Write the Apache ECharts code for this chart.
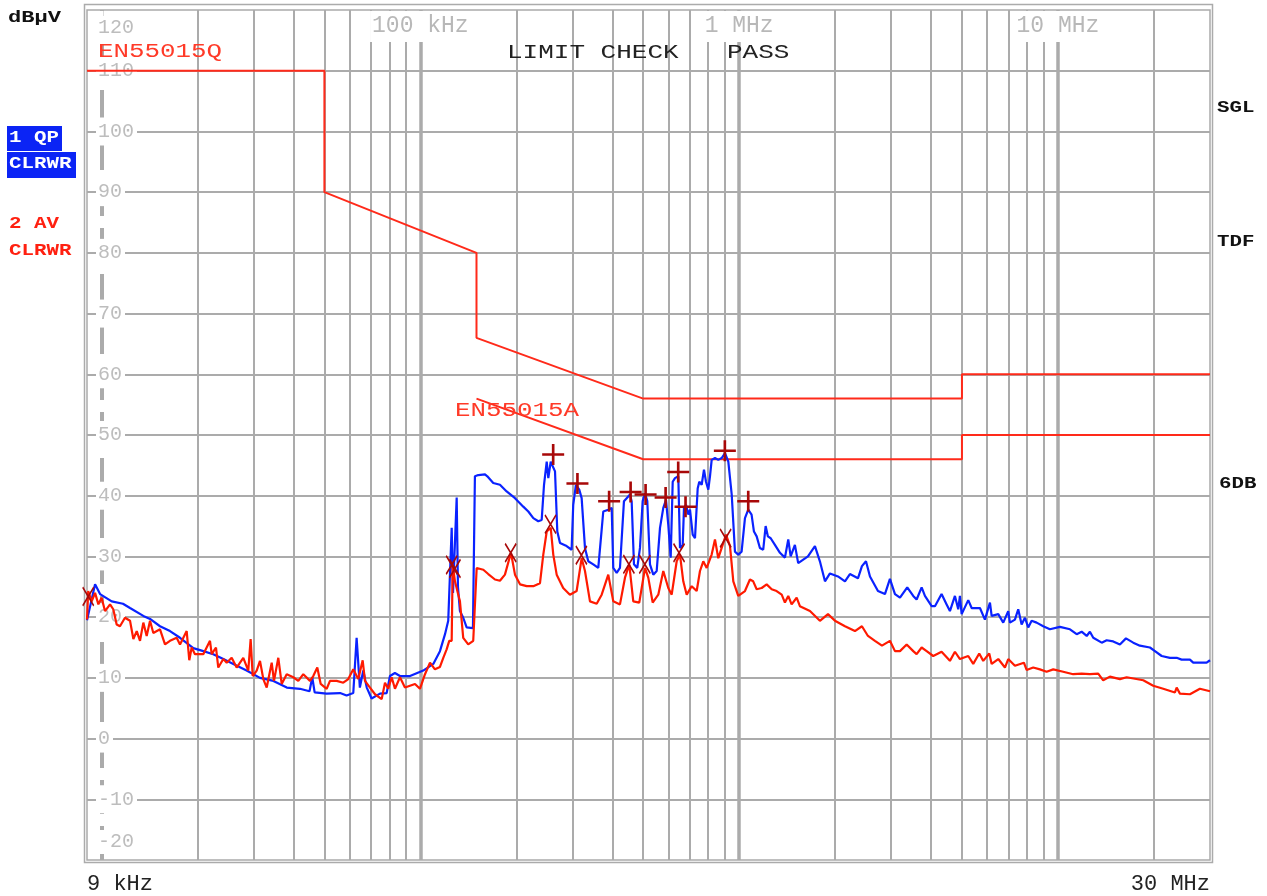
<!DOCTYPE html>
<html><head><meta charset="utf-8">
<script src="https://cdn.jsdelivr.net/npm/echarts@6/dist/echarts.min.js"></script>
<style>html,body{margin:0;padding:0;background:#fff}#c{width:1267px;height:896px}</style>
</head><body><div id="c"></div>
<script>
// Frequencies in kHz, levels in dBµV
const qpTrace = [[9.0,19.5],[9.54,25.4],[9.89,23.8],[10.76,22.6],[11.67,22.2],[12.28,21.5],[13.52,20.2],[14.19,19.7],[15.25,18.5],[16.39,17.7],[17.62,16.6],[19.4,14.9],[20.85,14.4],[22.4,13.9],[24.1,13.1],[25.9,12.3],[28.5,11.2],[31.4,10.0],[34.6,9.5],[38.1,8.4],[41.9,8.2],[44.9,7.8],[45.8,10.1],[46.6,7.6],[50.8,7.4],[56.0,7.5],[58.7,7.1],[61.6,7.5],[63.1,16.6],[64.6,8.4],[66.2,11.2],[67.9,8.4],[70.3,6.6],[74.7,7.4],[78.4,7.5],[80.3,10.3],[83.2,10.8],[86.3,10.3],[92.8,10.3],[102.1,11.2],[109.8,12.3],[115.2,14.4],[119.5,17.2],[122.3,19.4],[125.4,34.7],[126.6,24],[130,39.7],[131.2,25],[133.1,21],[136.3,19.9],[139.7,18.3],[146.2,18.2],[148.3,43.2],[152.0,43.4],[159.5,43.5],[162.2,43.2],[169.3,42.1],[177.7,41.8],[186.5,40.7],[198.1,39.6],[210.3,38.2],[218.1,37.4],[226.1,36.3],[234.4,35.8],[240.2,36],[244.3,41.8],[249.1,45.6],[252.0,42.9],[256.4,45.6],[260.1,45.3],[264.5,44],[268.9,34.1],[274.2,32.2],[287.6,31.7],[298.2,31.1],[301.7,38.5],[307.6,41.8],[315.1,41],[320.6,39.6],[328.4,31.4],[336.3,29.2],[348.7,28.7],[361.5,28.1],[370.5,34.4],[374.8,37.4],[388.6,37.7],[398.3,38],[402.9,28.1],[412.9,27.3],[422.8,28.1],[435.2,39.1],[443.8,39.6],[454.5,40.2],[460.1,39.1],[467.8,28.7],[479.1,28.1],[488.6,31.4],[498.2,39.1],[506.6,40.4],[515.1,39.1],[525.2,28.7],[537.9,27],[551.3,27.6],[564.6,34.7],[578.2,38],[589.6,39.3],[599.5,35.2],[610.0,29.8],[618.9,42.3],[629.2,42.9],[644.4,43.2],[652.3,31.4],[665.2,31.9],[671.4,38],[681.2,38.5],[692.7,36.9],[701.3,37.7],[715.1,33.6],[727.0,33],[741.3,41.2],[749.9,42.3],[763.0,41.8],[775.8,44.3],[787.1,42.3],[800.3,41],[810.1,43.2],[820.1,45.9],[839.9,46.2],[860.1,45.9],[881.5,46.2],[903.0,47],[924.8,45.6],[947.8,40.2],[970.3,30.8],[993.6,30.3],[1018,30.8],[1043,36.3],[1068,37.7],[1094,36.9],[1113,34.1],[1135,33.3],[1162,31.4],[1190,31.1],[1211,35],[1231,33.3],[1256,33],[1295,31.9],[1343,30.6],[1392,29.8],[1426,32.8],[1451,30],[1496,31.9],[1532,28.9],[1551,29.2],[1644,30],[1729,31.7],[1792,29.2],[1859,25.9],[1927,27.2],[2042,26.7],[2148,25.9],[2226,27.1],[2359,26.4],[2428,28.4],[2500,29.2],[2573,26.7],[2726,24.3],[2867,23.8],[2972,26.3],[3082,23.8],[3196,23.2],[3368,24.9],[3517,23.5],[3604,22.9],[3737,24.9],[3827,23.5],[4017,21.8],[4114,21.8],[4316,23.8],[4476,22.1],[4584,21],[4753,23.5],[4868,21.3],[4928,23.5],[4989,20.5],[5233,22.8],[5363,21.5],[5694,21.5],[5903,19.6],[6121,22.4],[6197,20.2],[6500,20.5],[6738,19.1],[6985,21],[7071,19.1],[7331,19.6],[7508,21.3],[7694,18.8],[7880,19.9],[8070,18.3],[8271,19.4],[8575,19.1],[8994,18.5],[9439,18],[10150,18.4],[10910,18],[11450,17.2],[11870,17.6],[12310,16.9],[12600,17.6],[12910,16.6],[13720,15.8],[14220,16.2],[14910,16],[15650,15.5],[16350,16.5],[17230,15.8],[18080,15.3],[19440,15],[20160,14.4],[21160,13.6],[22460,13.3],[23580,13.3],[24440,13],[25950,13],[26580,12.5],[29280,12.5],[30000,12.9]];

const avTrace = [[9.0,19.6],[9.08,24.3],[9.31,22.6],[9.54,24],[9.77,22.1],[10.0,23.2],[10.25,21],[10.63,22.1],[10.88,21.3],[11.15,18.8],[11.42,18.5],[11.84,19.9],[12.28,19.4],[12.58,16.4],[12.89,17.7],[13.2,16.1],[13.52,19.1],[13.85,16.9],[14.19,19.4],[14.53,17.4],[15.25,18],[15.81,15.5],[16.39,16.1],[17.2,16.6],[17.62,15.5],[18.49,17.7],[18.84,12.9],[19.17,15],[19.63,13.9],[20.85,13.9],[21.88,16.1],[22.15,13.9],[22.85,15],[23.23,11.7],[24.09,13.1],[24.69,12.5],[25.59,13.3],[26.53,11.7],[27.83,13.3],[28.85,11.2],[29.35,16.4],[29.79,10.3],[30.66,11.2],[31.4,12.8],[32.16,9.8],[32.96,8.4],[34.17,12.5],[34.74,9.5],[35.84,13.3],[36.73,9],[38.08,10.6],[39.94,10.1],[41.41,9.5],[42.93,10.6],[45.06,9.5],[46.14,10.3],[47.5,11.7],[48.68,9],[50.83,8.2],[52.06,9.5],[54.64,9.5],[57.3,9.2],[59.41,9.8],[61.6,11.4],[63.86,9.8],[65.92,12.9],[67.03,9.5],[69.5,8.4],[72.06,7.3],[75.62,6.5],[77.45,9.2],[79.31,8.2],[81.28,10.1],[83.24,8.2],[86.3,10.1],[89.47,8.4],[92.76,8.7],[96.2,9],[99.7,8.2],[103.4,10.6],[107.2,12.5],[111.1,11.4],[115.2,11.8],[118.0,13.3],[120.9,14.7],[123.2,16.1],[125.4,16.1],[126.3,28.7],[128.4,25.9],[131.5,23.7],[133.1,22.6],[136.3,16.6],[141.3,15.5],[146.5,16.1],[150.2,28.1],[157.6,27.8],[163.3,27.1],[171.4,26.2],[177.7,26],[184.2,27],[192.4,30.6],[198.1,27],[205.4,25.4],[215.6,25.1],[226.1,25.1],[237.3,25.6],[243.0,30.3],[249.1,34.1],[256.4,34.7],[261.2,30.3],[267.7,27],[280.6,24.8],[294.5,23.7],[309.2,24.3],[320.6,29.7],[328.4,27.6],[340.5,22.6],[357.4,22.2],[370.5,23.7],[388.6,27],[402.9,22.6],[422.8,22.1],[438.4,26.5],[452.2,28.7],[465.5,22.6],[486.1,22.4],[506.6,28.1],[518.8,26.5],[535.6,22.4],[557.7,23.7],[578.2,27.6],[599.5,24.8],[614.4,23.7],[637.0,29.2],[652.3,30.3],[668.0,25.9],[684.7,23.7],[709.9,25.1],[736.0,24.3],[753.7,27.6],[771.9,29.2],[791.1,28.1],[820.1,30.3],[839.9,32.8],[860.1,29.7],[881.5,31.4],[909.6,33.6],[936.2,31.7],[958.8,25.9],[993.6,23.5],[1043,24.3],[1081,26.2],[1107,25.9],[1135,24.6],[1177,24.8],[1220,25.4],[1265,24.6],[1311,24.3],[1360,23.7],[1392,22.4],[1426,23.5],[1461,22.1],[1515,23.2],[1551,21.8],[1668,21],[1792,19.4],[1900,20.5],[1998,19.4],[2148,18.5],[2308,17.7],[2428,18.5],[2536,16.9],[2667,16.1],[2806,15.3],[2972,16.1],[3082,14.4],[3196,14.4],[3354,15.5],[3517,14.4],[3604,13.9],[3737,15],[3875,14.4],[4063,13.6],[4316,14.3],[4584,12.8],[4753,14.3],[4928,13.1],[5233,13.6],[5425,12.3],[5665,14],[5831,12.8],[6090,14],[6197,12.3],[6500,13.1],[6821,11.7],[6985,13.1],[7331,12],[7823,12.5],[7977,11.3],[8367,11.7],[8782,11.4],[9217,11],[9667,11.4],[10390,11],[11170,10.6],[11870,10.7],[12600,10.6],[13380,10.7],[13870,9.6],[14560,10.2],[15650,9.8],[16430,10.1],[18520,9.6],[19910,8.7],[21400,8.2],[23290,7.6],[23580,8.4],[24140,7.4],[25950,7.3],[27890,8.2],[30000,7.8]];

const qpLimit = [[9,110],[50,110],[50,90],[150,80],[150,66],[500,56],[5000,56],[5000,60],[30000,60]];
const avLimit = [[150,56],[500,46],[5000,46],[5000,50],[30000,50]];
const qpPeaks = [[261,46.8],[311,42.0],[391,39.1],[456.6,40.6],[508.8,40.2],[588,39.7],[644,43.9],[679,38.2],[902,47.4],[1068,39.1]];
const avPeaks = [[9.08,23.4],[125.4,28.6],[128.4,28.0],[192,30.6],[256,35.3],[320,30.2],[451,28.7],[506,28.7],[648,30.6],[907,33.0]];

const yGrid = [-10,0,10,20,30,40,50,60,70,80,90,100,110];
const minorFreqs = [20,30,40,50,60,70,80,90,200,300,400,500,600,700,800,900,2000,3000,4000,5000,6000,7000,8000,9000,20000];
const decadeFreqs = [100,1000,10000];
const markerFreqs = [10];
const topLabels = {100:'100 kHz',1000:'1 MHz',10000:'10 MHz'};
const edgeLabels = ['9 kHz','30 MHz'];

const GRID = '#ababab';
const MONO = '"Liberation Mono","DejaVu Sans Mono",monospace';

const chart = echarts.init(document.getElementById('c'), null, {renderer:'canvas'});

const gridLines = [];
minorFreqs.forEach(f => gridLines.push({xAxis:f, lineStyle:{color:GRID,width:2,type:'solid'}}));
decadeFreqs.forEach(f => gridLines.push({xAxis:f, lineStyle:{color:GRID,width:3.5,type:'solid'}}));
markerFreqs.forEach(f => gridLines.push({xAxis:f, lineStyle:{color:GRID,width:4,type:[34,12]}}));
yGrid.forEach(v => gridLines.push({yAxis:v, lineStyle:{color:GRID,width:2,type:'solid'}}));

const plusPath = 'path://M8.8,0h2.4v8.8h8.8v2.4h-8.8v8.8h-2.4v-8.8h-8.8v-2.4h8.8z';
const xPath = 'path://M0,1.6L1.6,0L10,8.4L18.4,0L20,1.6L11.6,10L20,18.4L18.4,20L10,11.6L1.6,20L0,18.4L8.4,10Z';

function txt(x, y, text, color, font, sx) {
  return {type:'text', x:x, y:y, scaleX:sx||1, z:100,
    style:{text:text, x:0, y:0, fill:color, font:font, textAlign:'left', align:'left', textVerticalAlign:'middle', verticalAlign:'middle'}};
}

const boldF = 'bold 16px ' + MONO;
const plainF = '20px ' + MONO;

const option = {
  backgroundColor:'#fff',
  animation:false,
  grid:{left:87, right:57, top:7, bottom:36, show:true, borderColor:GRID, borderWidth:1.5, backgroundColor:'transparent', z:0},
  xAxis:[
    {type:'log', logBase:10, min:9, max:30000, position:'bottom', z:1,
     axisLine:{show:false}, axisTick:{show:false}, splitLine:{show:false},
     axisLabel:{show:true, margin:13, color:'#222', fontFamily:MONO, fontSize:22,
       alignMinLabel:'left', alignMaxLabel:'right', showMinLabel:true, showMaxLabel:true,
       formatter:function(v){ if (v < 9.5) return edgeLabels[0]; if (v > 29000) return edgeLabels[1]; return ''; }}},
    {type:'log', logBase:10, min:9, max:30000, position:'top', z:1,
     axisLine:{show:false}, axisTick:{show:false}, splitLine:{show:false},
     axisLabel:{show:true, inside:true, margin:1, color:'#b8b8b8', fontFamily:MONO, fontSize:23,
       showMinLabel:false, showMaxLabel:false, backgroundColor:'#fff', padding:[3,2,5,2],
       formatter:function(v){ const k = Math.round(v); return topLabels[k] || ''; }}}
  ],
  yAxis:{type:'value', min:-20, max:120, interval:10, position:'left', z:1,
    axisLine:{show:false}, axisTick:{show:false}, splitLine:{show:false},
    axisLabel:{show:true, inside:true, margin:9, color:'#bdbdbd', fontFamily:MONO, fontSize:20,
      formatter:function(v){
        if (v === 120) return '{sp|}{top|120}';
        if (v === -20) return '{sp|}{bot|-20}';
        return '{n|' + v + '}';
      },
      rich:{
        n:{backgroundColor:'#fff', padding:[4,3,4,2]},
        sp:{width:0, height:60},
        top:{verticalAlign:'bottom', backgroundColor:'#fff', padding:[2,3,2,2]},
        bot:{verticalAlign:'top', backgroundColor:'#fff', padding:[2,3,2,2]}
      }}},
  series:[
    {name:'grid', type:'line', data:[], z:0, silent:true,
     markLine:{silent:true, z:0, zlevel:0, symbol:['none','none'], label:{show:false}, animation:false, data:gridLines}},
    {name:'EN55015Q', type:'line', data:qpLimit, z:3, showSymbol:false, symbol:'none', silent:true,
     lineStyle:{color:'#ff2a1a', width:2}},
    {name:'EN55015A', type:'line', data:avLimit, z:3, showSymbol:false, symbol:'none', silent:true,
     lineStyle:{color:'#ff2a1a', width:2}},
    {name:'1 QP', type:'line', data:qpTrace, z:4, showSymbol:false, symbol:'none', silent:true,
     lineStyle:{color:'#0a22ff', width:2.2}},
    {name:'2 AV', type:'line', data:avTrace, z:5, showSymbol:false, symbol:'none', silent:true,
     lineStyle:{color:'#ff1a00', width:2.2}},
    {name:'QP peaks', type:'scatter', data:qpPeaks, z:6, symbol:plusPath, symbolSize:[22,21], silent:true,
     itemStyle:{color:'#a80808', opacity:1}},
    {name:'AV peaks', type:'scatter', data:avPeaks, z:6, symbol:xPath, symbolSize:[12,20], silent:true,
     itemStyle:{color:'#a80808', opacity:1}}
  ],
  graphic:[
    {type:'rect', z:0, silent:true, shape:{x:84.5, y:4.5, width:1128, height:858}, style:{fill:'none', stroke:GRID, lineWidth:1.5}},
    txt(8, 18, 'dBµV', '#111', 'bold 17px ' + MONO, 1.3),
    {type:'rect', z:99, shape:{x:7, y:126, width:55, height:25}, style:{fill:'#0b24f5'}},
    {type:'rect', z:99, shape:{x:7, y:152, width:69, height:26}, style:{fill:'#0b24f5'}},
    txt(9, 138, '1 QP', '#fff', boldF, 1.3),
    txt(9, 164, 'CLRWR', '#fff', boldF, 1.3),
    txt(9, 224, '2 AV', '#ff2010', boldF, 1.3),
    txt(9, 251, 'CLRWR', '#ff2010', boldF, 1.3),
    txt(1217, 108, 'SGL', '#111', boldF, 1.3),
    txt(1217, 242, 'TDF', '#111', boldF, 1.3),
    txt(1219, 484, '6DB', '#111', boldF, 1.3),
    txt(98, 52, 'EN55015Q', '#ff3a28', plainF, 1.29),
    txt(455, 411, 'EN55015A', '#ff3a28', plainF, 1.29),
    txt(507, 53, 'LIMIT CHECK', '#222', plainF, 1.3),
    txt(727, 53, 'PASS', '#222', plainF, 1.3)
  ]
};
chart.setOption(option);
</script>
</body></html>
